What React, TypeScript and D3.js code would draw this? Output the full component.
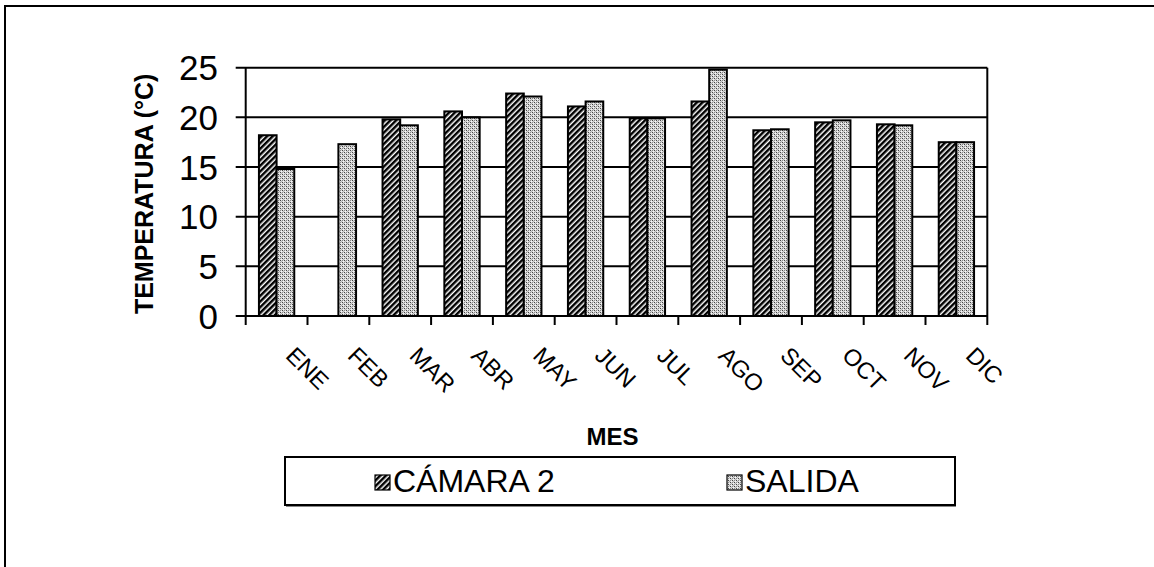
import React from "react";
import * as d3 from "d3";

// Monthly mean temperature (°C), two measuring points
const months = ["ENE", "FEB", "MAR", "ABR", "MAY", "JUN", "JUL", "AGO", "SEP", "OCT", "NOV", "DIC"];
const camara2: (number | null)[] = [18.2, null, 19.8, 20.6, 22.4, 21.1, 19.9, 21.6, 18.7, 19.5, 19.3, 17.5];
const salida: (number | null)[] = [14.8, 17.3, 19.2, 20.0, 22.1, 21.6, 19.9, 24.8, 18.8, 19.7, 19.2, 17.5];
const yTicks = [0, 5, 10, 15, 20, 25];
const seriesNames = ["CÁMARA 2", "SALIDA"];
const seriesFills = ["url(#hatch)", "url(#dots)"];

const W = 1154;
const H = 567;
const plot = { left: 245.7, right: 987.3, top: 67.7, bottom: 316 };
const FONT = "Arial, 'Liberation Sans', Helvetica, sans-serif";

export default function App() {
  const x = d3
    .scaleBand<string>()
    .domain(months)
    .range([plot.left, plot.right])
    .paddingInner(1.5 / 3.5)
    .paddingOuter(0.75 / 3.5);
  const step = x.step();
  const x1 = d3.scaleBand<string>().domain(seriesNames).range([0, x.bandwidth()]);
  const y = d3.scaleLinear().domain([0, 25]).range([plot.bottom, plot.top]);

  const series = [camara2, salida];
  const boundaries = d3.range(months.length + 1).map((i) => plot.left + i * step);

  return (
    <div style={{ position: "absolute", left: 0, top: 0 }}>
      <svg width={W} height={H} viewBox={`0 0 ${W} ${H}`} style={{ display: "block", background: "#fff" }}>
        <defs>
          <pattern id="hatch" width="4" height="4" patternUnits="userSpaceOnUse" patternTransform="rotate(45)">
            <rect width="4" height="4" fill="#fff" />
            <rect width="2.5" height="4" fill="#000" />
          </pattern>
          <pattern id="dots" width="4" height="4" patternUnits="userSpaceOnUse">
            <rect width="4" height="4" fill="#dcdcdc" />
            <rect x="0" y="0" width="1" height="1" fill="#444" />
            <rect x="2" y="2" width="1" height="1" fill="#444" />
            <rect x="2" y="0" width="1" height="1" fill="#888" />
            <rect x="0" y="2" width="1" height="1" fill="#888" />
            <rect x="1" y="1" width="1" height="1" fill="#b4b4b4" />
            <rect x="3" y="3" width="1" height="1" fill="#b4b4b4" />
            <rect x="1" y="3" width="1" height="1" fill="#f4f4f4" />
            <rect x="3" y="1" width="1" height="1" fill="#f4f4f4" />
          </pattern>
        </defs>

        {/* page frame */}
        <line x1={4} x2={W} y1={6} y2={6} stroke="#000" strokeWidth={2} />
        <line x1={5} x2={5} y1={5} y2={H} stroke="#000" strokeWidth={2} />

        {/* horizontal gridlines with outside ticks */}
        {yTicks.map((t) => (
          <line
            key={`g${t}`}
            x1={plot.left - 10}
            x2={plot.right}
            y1={y(t)}
            y2={y(t)}
            stroke="#000"
            strokeWidth={2}
          />
        ))}
        {/* right border of plot area */}
        <line x1={plot.right} x2={plot.right} y1={plot.top} y2={plot.bottom} stroke="#000" strokeWidth={2} />

        {/* bars */}
        {months.map((m, i) => (
          <g key={m}>
            {series.map((s, k) => {
              const v = s[i];
              if (v == null) return null;
              const bx = (x(m) as number) + (x1(seriesNames[k]) as number);
              return (
                <rect
                  key={k}
                  x={bx}
                  y={y(v)}
                  width={x1.bandwidth()}
                  height={y(0) - y(v)}
                  fill={seriesFills[k]}
                  stroke="#000"
                  strokeWidth={2}
                />
              );
            })}
          </g>
        ))}

        {/* axes */}
        <line x1={plot.left} x2={plot.left} y1={plot.top} y2={plot.bottom} stroke="#000" strokeWidth={2} />
        <line x1={plot.left} x2={plot.right} y1={plot.bottom} y2={plot.bottom} stroke="#000" strokeWidth={2} />
        {boundaries.map((bx, i) => (
          <line key={`t${i}`} x1={bx} x2={bx} y1={plot.bottom} y2={plot.bottom + 9} stroke="#000" strokeWidth={2} />
        ))}

        {/* y tick labels */}
        {yTicks.map((t) => (
          <text
            key={`l${t}`}
            x={218}
            y={y(t)}
            dy="0.36em"
            textAnchor="end"
            fontFamily={FONT}
            fontSize={35}
            fill="#000"
          >
            {t}
          </text>
        ))}

        {/* y axis title */}
        <text
          transform={`translate(153, ${(plot.top + plot.bottom) / 2 + 2}) rotate(-90)`}
          textAnchor="middle"
          fontFamily={FONT}
          fontWeight="bold"
          fontSize={25}
          fill="#000"
        >
          TEMPERATURA (°C)
        </text>

        {/* x category labels, rotated */}
        {months.map((m) => {
          const cx = (x(m) as number) + x.bandwidth() / 2;
          return (
            <text
              key={`x${m}`}
              transform={`translate(${cx + 8}, ${plot.bottom + 41}) rotate(45)`}
              fontFamily={FONT}
              fontSize={23.5}
              fill="#000"
            >
              {m}
            </text>
          );
        })}

        {/* x axis title */}
        <text
          x={(plot.left + plot.right) / 2 - 4}
          y={445}
          textAnchor="middle"
          fontFamily={FONT}
          fontWeight="bold"
          fontSize={24}
          fill="#000"
        >
          MES
        </text>

        {/* legend */}
        <g>
          <rect x={286} y={459} width={670} height={48} fill="#888" />
          <rect x={285} y={457} width={670} height={48} fill="#fff" stroke="#000" strokeWidth={2} />
          <rect x={375} y={475} width={15} height={15} fill="url(#hatch)" stroke="#000" strokeWidth={1.2} />
          <text x={393} y={492} fontFamily={FONT} fontSize={32} fill="#000">
            {seriesNames[0]}
          </text>
          <rect x={727} y={475} width={15} height={15} fill="url(#dots)" stroke="#000" strokeWidth={1.2} />
          <text x={745} y={492} fontFamily={FONT} fontSize={32} fill="#000">
            {seriesNames[1]}
          </text>
        </g>
      </svg>
    </div>
  );
}
